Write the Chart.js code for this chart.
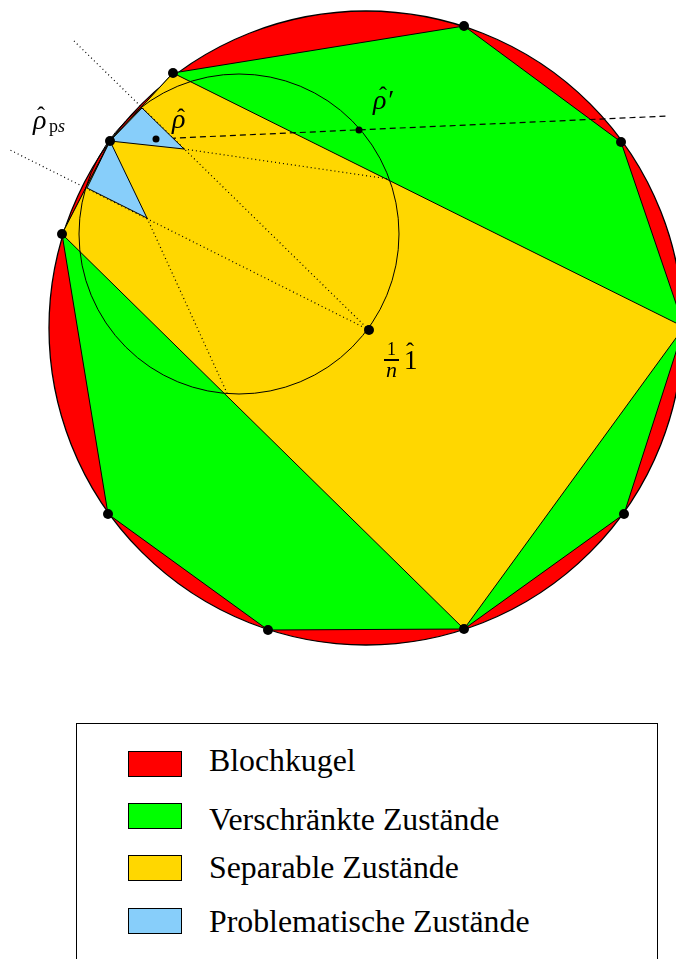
<!DOCTYPE html>
<html><head><meta charset="utf-8">
<script src="https://cdn.jsdelivr.net/npm/chart.js@4/dist/chart.umd.min.js"></script>
<style>
html,body{margin:0;padding:0;background:#fff;}
#wrap{position:relative;width:676px;height:959px;overflow:hidden;}
#c{position:absolute;left:0;top:0;}
.m{position:absolute;font-family:"Liberation Serif","Times New Roman",serif;color:#000;white-space:nowrap;line-height:1;}
.it{font-style:italic;}
#legend{position:absolute;left:76px;top:723px;width:582px;height:260px;border:1px solid #000;box-sizing:border-box;background:#fff;}
.sw{position:absolute;left:51px;width:54px;height:26px;border:1px solid #000;box-sizing:border-box;}
.lt{position:absolute;left:132px;font-family:"Liberation Serif","Times New Roman",serif;font-size:31.8px;line-height:1;white-space:nowrap;}
</style></head>
<body>
<div id="wrap">
<canvas id="c" width="676" height="959"></canvas>
<!-- rho_ps -->
<span class="m it" style="left:33px;top:106px;font-size:28px;">ρ</span>
<span class="m" style="left:37px;top:103px;font-size:24px;">ˆ</span>
<span class="m" style="left:49px;top:117px;font-size:18px;">p<span class="it">s</span></span>
<!-- rho -->
<span class="m it" style="left:172px;top:105px;font-size:28px;">ρ</span>
<span class="m" style="left:177px;top:105px;font-size:24px;">ˆ</span>
<!-- rho' -->
<span class="m it" style="left:373px;top:86px;font-size:28px;">ρ′</span>
<span class="m" style="left:379px;top:83px;font-size:24px;">ˆ</span>
<!-- 1/n 1 -->
<span class="m" style="left:387px;top:340px;font-size:18px;">1</span>
<div style="position:absolute;left:384px;top:359px;width:15px;height:2px;background:#000;"></div>
<span class="m it" style="left:386px;top:359px;font-size:22px;">n</span>
<span class="m" style="left:404px;top:347px;font-size:27px;">1</span>
<span class="m" style="left:406px;top:339px;font-size:24px;">ˆ</span>
<div id="legend">
  <div class="sw" style="top:27px;background:#ff0000;"></div>
  <div class="lt" style="top:21px;">Blochkugel</div>
  <div class="sw" style="top:79px;background:#00ff00;"></div>
  <div class="lt" style="top:80px;">Verschränkte Zustände</div>
  <div class="sw" style="top:131px;background:#ffd700;"></div>
  <div class="lt" style="top:128px;">Separable Zustände</div>
  <div class="sw" style="top:184px;background:#87cefa;"></div>
  <div class="lt" style="top:182px;">Problematische Zustände</div>
</div>
</div>
<script>
// Bloch sphere (outer circle) and inner circle: centre and radius in plot units
const blochCircle = {cx: 366, cy: 328, r: 317};
const innerCircle = {cx: 239, cy: 234, r: 160};

// Entangled-state polygon (vertices on the Bloch circle)
const entangledX = [464, 621, 684, 624, 464, 268, 108, 62, 110, 173];
const entangledY = [26, 142, 327, 514, 629, 630, 514, 234, 141, 73];

// Separable-state polygon
const separableX = [173, 684, 464, 62, 110];
const separableY = [73, 327, 629, 234, 141];

// Problematic triangles
const problemAX = [110, 142, 184];
const problemAY = [141, 108, 149];
const problemBX = [110, 87, 147];
const problemBY = [141, 188, 218];

// Dotted construction lines
const dot1X = [369, 72];  const dot1Y = [330, 39];
const dot2X = [369, 10];  const dot2Y = [330, 150];
const dot3X = [184, 389]; const dot3Y = [149, 179];
const dot4X = [147, 227]; const dot4Y = [218, 393];

// Dashed line through rho_ps, rho, rho'
const dashX = [110, 668]; const dashY = [141, 116];

// Marked states: rho, rho'
const stateX = [156, 359]; const stateY = [139, 130];
// Maximally mixed state 1/n
const identityX = [369]; const identityY = [330];

function pts(xs, ys) { return xs.map((x, i) => ({x: x, y: ys[i]})); }
function closed(xs, ys) { const p = pts(xs, ys); p.push(p[0]); return p; }

const polyStyle = (bg) => ({showLine: true, fill: 'shape', backgroundColor: bg, borderColor: '#000', borderWidth: 1, pointRadius: 0, tension: 0});
const lineStyle = (dash) => ({showLine: true, fill: false, borderColor: '#000', borderWidth: 1.2, borderDash: dash, pointRadius: 0, tension: 0});

const layers = [
  Object.assign({label: 'Verschränkt', data: closed(entangledX, entangledY)}, polyStyle('#00ff00')),
  Object.assign({label: 'Separabel', data: closed(separableX, separableY)}, polyStyle('#ffd700')),
  Object.assign({label: 'dot1', data: pts(dot1X, dot1Y)}, lineStyle([1, 3])),
  Object.assign({label: 'dot2', data: pts(dot2X, dot2Y)}, lineStyle([1, 3])),
  Object.assign({label: 'dot3', data: pts(dot3X, dot3Y)}, lineStyle([1, 3])),
  Object.assign({label: 'dot4', data: pts(dot4X, dot4Y)}, lineStyle([1, 3])),
  Object.assign({label: 'dash', data: pts(dashX, dashY)}, lineStyle([6, 4])),
  Object.assign({label: 'ProblemA', data: closed(problemAX, problemAY)}, polyStyle('#87cefa')),
  Object.assign({label: 'ProblemB', data: closed(problemBX, problemBY)}, polyStyle('#87cefa')),
  {label: 'Ecken', data: pts(entangledX, entangledY), showLine: false, pointRadius: 5, pointBackgroundColor: '#000', pointBorderWidth: 0},
  {label: 'Zustände', data: pts(stateX, stateY), showLine: false, pointRadius: 3.5, pointBackgroundColor: '#000', pointBorderWidth: 0},
  {label: 'Identität', data: pts(identityX, identityY), showLine: false, pointRadius: 5, pointBackgroundColor: '#000', pointBorderWidth: 0}
];
layers.forEach((d, i) => { d.order = layers.length - i; });

function drawCircle(chart, c, fill) {
  const xs = chart.scales.x, ys = chart.scales.y;
  const px = xs.getPixelForValue(c.cx), py = ys.getPixelForValue(c.cy);
  const pr = Math.abs(xs.getPixelForValue(c.cx + c.r) - px);
  const ctx = chart.ctx;
  ctx.save();
  ctx.beginPath();
  ctx.arc(px, py, pr, 0, Math.PI * 2);
  if (fill) { ctx.fillStyle = fill; ctx.fill(); }
  ctx.lineWidth = fill ? 1.3 : 1;
  ctx.strokeStyle = '#000';
  ctx.stroke();
  ctx.restore();
}

const circles = {
  id: 'circles',
  beforeDatasetsDraw(chart) { drawCircle(chart, blochCircle, '#ff0000'); },
  afterDatasetDraw(chart, args) {
    if (chart.data.datasets[args.index].label === 'Separabel') drawCircle(chart, innerCircle, null);
  }
};

new Chart(document.getElementById('c'), {
  type: 'scatter',
  data: {datasets: layers},
  options: {
    responsive: false,
    animation: false,
    events: [],
    layout: {padding: 0, autoPadding: false},
    plugins: {legend: {display: false}, tooltip: {enabled: false}},
    scales: {
      x: {type: 'linear', min: 0, max: 676, display: false},
      y: {type: 'linear', min: 0, max: 959, reverse: true, display: false}
    }
  },
  plugins: [circles]
});
</script>
</body></html>
